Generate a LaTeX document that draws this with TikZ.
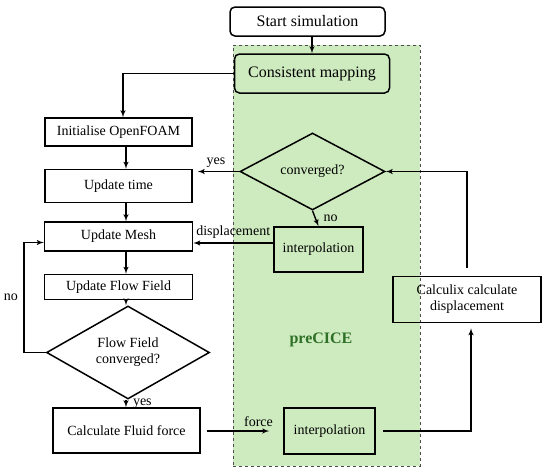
\documentclass[tikz,border=0pt]{standalone}
\usepackage{fontspec}
\setmainfont{Liberation Serif}
\usepackage{xcolor}
\usepackage{tikz}
\usetikzlibrary{shapes.geometric, arrows, positioning, calc}

\definecolor{cplgreen}{RGB}{206,235,191}
\definecolor{cpltext}{RGB}{46,112,38}

\begin{document}
\begin{tikzpicture}[x=1pt, y=-1pt,
    font=\fontsize{14}{16}\selectfont,
    block/.style={rectangle, draw=black, line width=1.5pt, text centered, inner sep=2pt},
    roundblock/.style={block, rounded corners=5pt, font=\fontsize{16}{18}\selectfont},
    decision/.style={diamond, draw=black, line width=1.5pt, inner sep=0pt, align=center},
    flow/.style={draw=black, line width=1.4pt, -latex'},
    lbl/.style={font=\fontsize{14}{16}\selectfont}
]
    \useasboundingbox (0,0) rectangle (550,475);

    % preCICE coupling region
    \node [rectangle, draw=black!70, dashed, fill=cplgreen, minimum width=187pt, minimum height=421pt, inner sep=0pt] (region) at (326.5,255.5) {};
    \node [font=\fontsize{16}{18}\selectfont\bfseries, text=cpltext] (precice) at (321,340) {preCICE};

    \node [roundblock, fill=white, minimum width=155pt, minimum height=29pt] (start) at (307.5,21.5) {Start simulation};
    \node [roundblock, fill=cplgreen, minimum width=155pt, minimum height=39pt] (map) at (312,73.5) {Consistent mapping};

    % OpenFOAM side
    \node [block, fill=white, minimum width=147pt, minimum height=28pt] (init) at (118.5,132) {Initialise OpenFOAM};
    \node [block, fill=white, minimum width=147pt, minimum height=33pt, below=22pt of init] (time) {Update time};
    \node [block, fill=white, minimum width=148pt, minimum height=29pt, below=18pt of time] (mesh) {Update Mesh};
    \node [block, fill=white, minimum width=148pt, minimum height=25pt, below=22pt of mesh] (flowfield) {Update Flow Field};
    \node [decision, minimum width=163pt, minimum height=61pt] (fconv) at (128,352.5) {Flow Field\\converged?};
    \node [block, fill=white, minimum width=147pt, minimum height=45pt] (force) at (126.5,430.5) {Calculate Fluid force};
    \coordinate (axis) at (126,0);
    \coordinate (loop) at (24,0);

    % preCICE / solid side
    \node [decision, minimum width=145pt, minimum height=60pt] (conv) at (312.5,171.5) {converged?};
    \node [block, minimum width=89pt, minimum height=45pt] (interpA) at (318.5,249.5) {interpolation};
    \node [block, minimum width=91pt, minimum height=46pt] (interpB) at (329.5,431) {interpolation};
    \node [block, align=center, minimum width=148pt, minimum height=46pt] (calculix) at (467,299.5) {Calculix calculate\\displacement};

    % Connections
    \path [flow] ([xshift=4.5pt]start.south) -- ([xshift=4.5pt]start.south |- map.north);
    \path [flow] (map.west) -| ([xshift=4.5pt]init.north);
    \path [flow] (init.south -| axis) -- (time.north -| axis);
    \path [flow] (time.south -| axis) -- (mesh.north -| axis);
    \path [flow] (mesh.south -| axis) -- (flowfield.north -| axis);
    \path [flow] (flowfield.south -| axis) -- (fconv.north -| axis);
    \path [flow] (fconv.south -| axis) -- node[right, xshift=3pt, lbl] {yes} (force.north -| axis);
    \path [flow] (fconv.west) -- (fconv.west -| loop) |- node[pos=0.25, left, xshift=-2pt, lbl] {no} ([yshift=-6pt]mesh.west);
    \path [flow, shorten <=6pt, shorten >=14pt] (force.east |- interpB.west) -- node[above, pos=0.7, lbl] {force} (interpB.west);
    \path [flow, shorten <=7pt, shorten >=5pt] (interpB.east) -| ([xshift=4pt]calculix.south);
    \path [flow, shorten <=8pt] (calculix.north) |- (conv.east);
    \path [flow, shorten >=5pt] (conv.west) -- node[above, pos=0.5, lbl] {yes} (conv.west -| time.east);
    \path [flow] (conv.south) -- node[right, xshift=4pt, lbl] {no} (interpA.north);
    \path [flow] ([yshift=6.5pt]interpA.west) -- node[above, lbl] {displacement} ([yshift=6.5pt]interpA.west -| mesh.east);
\end{tikzpicture}
\end{document}
